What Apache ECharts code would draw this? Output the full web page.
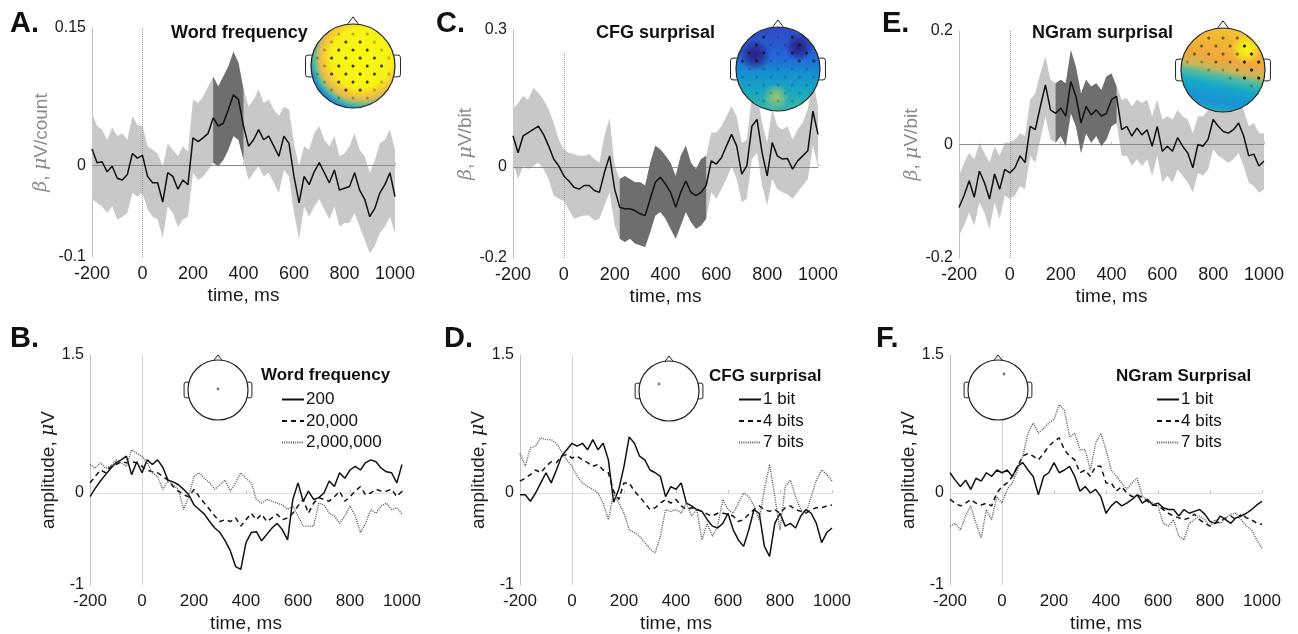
<!DOCTYPE html>
<html>
<head>
<meta charset="utf-8">
<title>ERP regression</title>
<style>
html, body { margin: 0; width: 100%; height: 100%; background: #fff; }
#chart { width: 1298px; height: 634px; }
</style>
</head>
<body>
<div id="chart"></div>
<script src="https://cdn.jsdelivr.net/npm/echarts@6/dist/echarts.min.js"></script>
<script>
// time axis, ms
const times = [-200,-180,-160,-140,-120,-100,-80,-60,-40,-20,
  0,20,40,60,80,100,120,140,160,180,
  200,220,240,260,280,300,320,340,360,380,
  400,420,440,460,480,500,520,540,560,580,
  600,620,640,660,680,700,720,740,760,780,
  800,820,840,860,880,900,920,940,960,980,1000];

// A. word frequency beta (mean, CI), significant window
const wfMean = [0.018,0.003,0.004,-0.007,-0.001,-0.014,-0.016,-0.010,0.013,0.008,
  0.011,-0.012,-0.019,-0.019,-0.040,-0.008,-0.012,-0.026,-0.016,-0.021,
  0.030,0.026,0.030,0.035,0.052,0.043,0.046,0.061,0.077,0.072,
  0.043,0.021,0.028,0.039,0.028,0.032,0.021,0.010,0.032,0.024,
  -0.012,-0.041,-0.012,-0.021,-0.007,0.003,-0.008,-0.019,-0.005,-0.027,
  -0.025,-0.023,-0.008,-0.027,-0.037,-0.056,-0.047,-0.030,-0.021,-0.008,-0.034];
const wfUpper = [0.057,0.043,0.039,0.028,0.041,0.032,0.035,0.028,0.054,0.044,
  0.043,0.021,0.017,0.013,-0.001,0.024,0.017,0.010,0.021,0.015,
  0.072,0.068,0.075,0.086,0.097,0.086,0.097,0.108,0.124,0.112,
  0.083,0.064,0.072,0.083,0.068,0.072,0.061,0.054,0.064,0.061,
  0.024,-0.001,0.021,0.017,0.035,0.043,0.028,0.021,0.032,0.010,
  0.013,0.021,0.035,0.017,0.010,-0.008,0.006,0.024,0.028,0.039,0.017];
const wfLower = [-0.037,-0.041,-0.045,-0.052,-0.045,-0.059,-0.056,-0.052,-0.030,-0.034,
  -0.030,-0.048,-0.056,-0.059,-0.079,-0.045,-0.052,-0.067,-0.059,-0.056,
  -0.008,-0.016,-0.012,-0.005,0.003,-0.001,0.006,0.017,0.032,0.028,
  0.006,-0.016,-0.008,-0.001,-0.012,-0.008,-0.019,-0.030,-0.005,-0.012,
  -0.052,-0.081,-0.045,-0.056,-0.045,-0.037,-0.048,-0.059,-0.045,-0.067,
  -0.063,-0.063,-0.052,-0.067,-0.081,-0.096,-0.088,-0.074,-0.067,-0.056,-0.074];
const wfSig = [280, 400];

// C. CFG surprisal beta
const cfgMean = [0.068,0.031,0.068,0.075,0.082,0.089,0.071,0.046,0.017,0.002,
  -0.020,-0.031,-0.045,-0.049,-0.041,-0.041,-0.052,-0.056,-0.012,0.024,
  -0.049,-0.089,-0.092,-0.092,-0.096,-0.103,-0.107,-0.070,-0.034,-0.023,
  -0.038,-0.056,-0.089,-0.056,-0.031,-0.056,-0.063,-0.056,-0.041,0.013,
  0.006,0.020,0.046,0.071,0.046,-0.016,0.002,0.089,0.104,0.031,
  -0.020,0.053,0.024,0.017,0.018,-0.005,0.013,0.024,0.035,0.122,0.071];
const cfgUpper = [0.126,0.140,0.155,0.147,0.173,0.162,0.147,0.126,0.097,0.060,
  0.038,0.031,0.028,0.024,0.024,0.028,0.017,0.009,0.068,0.107,
  0.002,-0.027,-0.020,-0.027,-0.034,-0.034,-0.041,0.009,0.046,0.038,
  0.024,0.009,-0.020,0.024,0.046,0.009,-0.005,0.017,0.024,0.075,
  0.075,0.089,0.111,0.133,0.111,0.053,0.060,0.155,0.162,0.097,
  0.053,0.126,0.089,0.082,0.089,0.060,0.082,0.097,0.126,0.191,0.133];
const cfgLower = [0.009,-0.027,0.002,-0.005,0.002,0.009,-0.005,-0.027,-0.063,-0.070,
  -0.075,-0.095,-0.114,-0.110,-0.107,-0.107,-0.118,-0.114,-0.085,-0.056,
  -0.129,-0.158,-0.165,-0.158,-0.168,-0.172,-0.176,-0.143,-0.107,-0.099,
  -0.114,-0.136,-0.158,-0.129,-0.099,-0.121,-0.136,-0.129,-0.114,-0.056,
  -0.070,-0.049,-0.027,0.002,-0.027,-0.078,-0.070,0.017,0.031,-0.041,
  -0.085,-0.027,-0.049,-0.056,-0.060,-0.070,-0.056,-0.041,-0.027,0.046,0.002];
const cfgSig = [220, 560];

// E. NGram surprisal beta
const ngMean = [-0.111,-0.090,-0.064,-0.093,-0.047,-0.067,-0.096,-0.052,-0.079,-0.044,
  -0.050,-0.041,-0.020,-0.032,0.032,0.026,0.067,0.105,0.061,0.055,
  0.064,0.050,0.111,0.085,0.038,0.067,0.052,0.061,0.050,0.055,
  0.079,0.085,0.026,0.032,0.015,0.029,0.017,0.026,-0.003,0.032,
  -0.012,-0.003,-0.012,0.012,-0.003,-0.015,-0.041,0.000,-0.003,0.009,
  0.044,0.032,0.023,0.020,0.026,0.038,0.015,-0.020,-0.017,-0.038,-0.029];
const ngUpper = [-0.055,-0.032,-0.015,-0.026,0.003,-0.015,-0.032,-0.003,-0.020,0.003,
  0.003,0.009,0.020,0.015,0.079,0.090,0.125,0.155,0.114,0.108,
  0.114,0.108,0.166,0.137,0.090,0.114,0.102,0.108,0.096,0.120,
  0.125,0.102,0.079,0.082,0.067,0.079,0.073,0.079,0.050,0.079,
  0.044,0.050,0.044,0.061,0.050,0.044,0.020,0.050,0.050,0.061,
  0.090,0.079,0.073,0.073,0.085,0.090,0.061,0.032,0.038,0.020,0.020];
const ngLower = [-0.160,-0.143,-0.120,-0.143,-0.102,-0.120,-0.149,-0.102,-0.131,-0.090,
  -0.096,-0.090,-0.073,-0.079,-0.020,-0.032,0.009,0.050,0.009,0.003,
  0.015,-0.003,0.055,0.032,-0.015,0.020,0.003,0.015,-0.003,0.009,
  0.032,0.038,-0.020,-0.020,-0.038,-0.026,-0.038,-0.026,-0.055,-0.020,
  -0.067,-0.055,-0.067,-0.044,-0.055,-0.067,-0.085,-0.050,-0.055,-0.044,
  -0.009,-0.020,-0.026,-0.032,-0.026,-0.015,-0.038,-0.067,-0.073,-0.085,-0.079];
const ngSig = [180, 420];

// B. amplitude by word frequency
const wf200 = [-0.04,0.05,0.13,0.20,0.27,0.33,0.36,0.40,0.20,0.34,
  0.22,0.36,0.31,0.36,0.28,0.14,0.12,0.09,0.04,-0.02,
  -0.13,-0.18,-0.23,-0.31,-0.38,-0.43,-0.52,-0.63,-0.80,-0.83,
  -0.54,-0.43,-0.42,-0.52,-0.45,-0.38,-0.33,-0.40,-0.51,-0.07,
  0.11,-0.09,0.02,-0.07,-0.05,0.00,0.13,0.07,0.22,0.16,
  0.25,0.29,0.25,0.33,0.36,0.34,0.27,0.23,0.22,0.11,0.31];
const wf20000 = [0.11,0.18,0.25,0.22,0.29,0.31,0.34,0.33,0.34,0.33,
  0.29,0.25,0.23,0.22,0.18,0.14,0.07,0.02,-0.02,-0.04,
  0.04,-0.04,-0.11,-0.18,-0.25,-0.31,-0.29,-0.31,-0.27,-0.36,
  -0.29,-0.22,-0.29,-0.23,-0.31,-0.27,-0.23,-0.29,-0.27,-0.22,
  -0.14,-0.07,-0.22,-0.11,-0.05,-0.07,-0.09,-0.04,0.02,-0.09,
  -0.04,0.02,0.07,-0.02,0.00,0.04,0.02,0.02,0.04,-0.04,0.02];
const wf2000000 = [0.31,0.27,0.33,0.27,0.29,0.36,0.33,0.29,0.47,0.43,
  0.40,0.33,0.22,0.18,0.04,0.13,0.09,0.04,-0.18,-0.04,
  0.18,0.22,0.16,0.11,0.04,0.09,0.14,0.02,0.11,0.22,
  0.16,0.11,-0.07,-0.11,-0.07,-0.09,-0.11,-0.13,-0.18,-0.14,
  -0.25,-0.36,-0.36,-0.36,-0.11,-0.13,-0.22,-0.25,-0.33,-0.25,
  -0.14,-0.25,-0.43,-0.33,-0.18,-0.22,-0.14,-0.11,-0.18,-0.16,-0.23];

// D. amplitude by CFG surprisal
const cfg1 = [-0.02,-0.02,-0.09,0.00,0.11,0.22,0.11,0.25,0.40,0.47,
  0.54,0.51,0.54,0.47,0.58,0.47,0.54,0.36,-0.10,0.04,
  0.29,0.61,0.54,0.40,0.36,0.25,0.22,0.18,-0.04,0.07,
  0.04,0.11,-0.11,-0.14,-0.18,-0.20,-0.29,-0.36,-0.38,-0.33,
  -0.22,-0.40,-0.51,-0.58,-0.40,-0.18,-0.22,-0.58,-0.69,-0.33,
  -0.22,-0.36,-0.33,-0.38,-0.25,-0.18,-0.22,-0.33,-0.54,-0.43,-0.38];
const cfg4 = [0.13,0.16,0.20,0.25,0.22,0.29,0.34,0.33,0.40,0.42,
  0.38,0.40,0.36,0.33,0.29,0.31,0.25,0.22,0.02,-0.07,
  0.11,0.11,0.02,-0.04,-0.11,-0.18,-0.16,-0.11,-0.07,-0.11,
  -0.07,-0.14,-0.18,-0.16,-0.18,-0.20,-0.23,-0.25,-0.22,-0.22,
  -0.23,-0.25,-0.31,-0.29,-0.23,-0.18,-0.14,-0.18,-0.20,-0.18,
  -0.22,-0.16,-0.14,-0.18,-0.20,-0.22,-0.18,-0.16,-0.16,-0.14,-0.13];
const cfg7 = [0.43,0.29,0.49,0.51,0.60,0.58,0.58,0.54,0.45,0.36,
  0.29,0.18,0.11,0.07,0.04,0.00,-0.11,-0.29,0.00,-0.11,
  -0.22,-0.40,-0.43,-0.47,-0.54,-0.61,-0.65,-0.47,-0.18,-0.20,
  -0.18,-0.22,-0.11,-0.25,-0.18,-0.51,-0.33,-0.47,-0.36,-0.07,
  -0.18,-0.22,-0.11,0.00,-0.04,-0.14,-0.29,0.04,0.31,-0.04,
  -0.40,0.07,0.14,-0.04,-0.18,-0.22,-0.04,0.14,0.25,0.20,0.13];

// F. amplitude by NGram surprisal
const ng1 = [0.22,0.14,0.07,0.14,0.04,0.16,0.13,0.22,0.18,0.25,
  0.22,0.25,0.18,0.29,0.33,0.25,0.18,-0.02,0.18,0.22,
  0.33,0.22,0.25,0.29,0.18,0.02,0.07,0.00,0.04,-0.04,
  -0.22,-0.14,-0.09,-0.14,-0.11,-0.07,-0.02,-0.11,-0.07,-0.13,
  -0.11,-0.16,-0.18,-0.18,-0.25,-0.18,-0.22,-0.20,-0.18,-0.23,
  -0.31,-0.33,-0.25,-0.29,-0.33,-0.27,-0.25,-0.22,-0.18,-0.13,-0.09];
const ng4 = [-0.07,-0.11,-0.14,-0.11,-0.07,-0.11,-0.13,-0.11,-0.14,0.00,
  0.07,0.11,0.18,0.29,0.40,0.43,0.40,0.36,0.43,0.51,
  0.56,0.60,0.47,0.40,0.36,0.22,0.25,0.18,0.29,0.29,
  0.11,0.11,0.02,0.07,0.00,-0.04,-0.02,-0.05,-0.09,-0.13,
  -0.14,-0.18,-0.22,-0.25,-0.27,-0.29,-0.27,-0.23,-0.29,-0.33,
  -0.36,-0.33,-0.31,-0.27,-0.25,-0.29,-0.23,-0.27,-0.29,-0.33,-0.34];
const ng7 = [-0.36,-0.33,-0.40,-0.25,-0.14,-0.33,-0.49,-0.18,-0.29,-0.04,
  -0.11,0.04,0.11,0.25,0.40,0.65,0.76,0.65,0.70,0.76,
  0.80,0.96,0.90,0.61,0.65,0.47,0.47,0.25,0.54,0.65,
  0.47,0.25,0.18,0.11,0.04,0.11,0.16,-0.04,-0.07,-0.11,
  -0.14,-0.33,-0.36,-0.29,-0.47,-0.51,-0.33,-0.29,-0.25,-0.29,
  -0.36,-0.29,-0.33,-0.27,-0.23,-0.22,-0.29,-0.36,-0.40,-0.51,-0.60];

const wfLevels = ['200', '20,000', '2,000,000'];
const bitLevels = ['1 bit', '4 bits', '7 bits'];

const FONT = '"Liberation Sans", Arial, Helvetica, sans-serif';
const SERIF = '"DejaVu Serif", "Liberation Serif", serif';
const zeroIdx = times.indexOf(0);

let myChart = echarts.init(document.getElementById('chart'));

const grids = [
  {left: 92, top: 28, width: 303, height: 229},   // A
  {left: 513, top: 30, width: 305, height: 228},  // C
  {left: 959, top: 31, width: 305, height: 227},  // E
  {left: 90, top: 355, width: 312, height: 232},  // B
  {left: 520, top: 355, width: 312, height: 232}, // D
  {left: 950, top: 355, width: 312, height: 232}  // F
];

function xAxisFor(i, fontSize) {
  return {
    type: 'category', gridIndex: i, data: times.map(String), boundaryGap: false,
    axisLine: {show: false},
    axisTick: {show: true, inside: true, length: 3, interval: 9, lineStyle: {color: '#c4c4c4'}},
    axisLabel: {interval: 9, margin: 8, color: '#1a1a1a', fontSize: fontSize, fontFamily: FONT},
    splitLine: {show: false},
    name: 'time, ms', nameLocation: 'middle', nameGap: 29,
    nameTextStyle: {color: '#1a1a1a', fontSize: 19, fontFamily: FONT}
  };
}

function yAxisFor(i, min, max, step, name, gap, nameColor) {
  return {
    type: 'value', gridIndex: i, min: min, max: max, interval: step,
    axisLine: {show: true, lineStyle: {color: '#c0c0c0', width: 1}},
    axisTick: {show: false},
    splitLine: {show: false},
    axisLabel: {
      showMinLabel: true, showMaxLabel: true, margin: 6,
      color: '#1a1a1a', fontSize: 16, fontFamily: FONT,
      formatter: function (v) {
        if (Math.abs(v - min) < 1e-9 || Math.abs(v) < 1e-9 || Math.abs(v - max) < 1e-9) {
          return String(+v.toFixed(2));
        }
        return '';
      }
    },
    name: name, nameLocation: 'middle', nameGap: gap,
    nameTextStyle: {
      color: nameColor, fontSize: 19, fontFamily: FONT,
      rich: {g: {fontFamily: SERIF, fontStyle: 'italic', fontSize: 19, color: nameColor}}
    }
  };
}

// confidence band as a stacked pair: invisible lower + (upper - lower) filled
function band(i, lower, upper, color, z, win) {
  const inWin = k => !win || (times[k] >= win[0] && times[k] <= win[1]);
  const lo = lower.map((v, k) => inWin(k) ? v : null);
  const diff = upper.map((v, k) => inWin(k) ? +(v - lower[k]).toFixed(4) : null);
  const stack = 'band' + i + (win ? 'sig' : '');
  return [
    {type: 'line', xAxisIndex: i, yAxisIndex: i, data: lo, stack: stack, stackStrategy: 'all',
      symbol: 'none', silent: true, z: z, lineStyle: {opacity: 0}},
    {type: 'line', xAxisIndex: i, yAxisIndex: i, data: diff, stack: stack, stackStrategy: 'all',
      symbol: 'none', silent: true, z: z, lineStyle: {opacity: 0}, areaStyle: {color: color, opacity: 1}}
  ];
}

function meanLine(i, data, vTop) {
  return {
    type: 'line', xAxisIndex: i, yAxisIndex: i, data: data, symbol: 'none', z: 6,
    lineStyle: {color: '#111', width: 1.5},
    markLine: {
      silent: true, symbol: 'none', label: {show: false}, z: 3,
      data: [
        {yAxis: 0, lineStyle: {color: '#8c8c8c', width: 1, type: 'solid'}},
        [{coord: [zeroIdx, vTop[0]]}, {coord: [zeroIdx, vTop[1]], lineStyle: {color: '#9a9a9a', width: 1, type: [1, 1]}}]
      ]
    }
  };
}

const lineStyles = [
  {color: '#111', width: 1.5, type: 'solid'},
  {color: '#111', width: 1.5, type: [5, 4]},
  {color: '#555', width: 1.4, type: [1, 1.2]}
];

function condLines(i, names, sets) {
  return sets.map((d, k) => {
    const s = {
      type: 'line', name: names[k], xAxisIndex: i, yAxisIndex: i, data: d, symbol: 'none', z: 6,
      itemStyle: {color: lineStyles[k].color},
      lineStyle: lineStyles[k]
    };
    if (k === 0) {
      s.markLine = {
        silent: true, symbol: 'none', label: {show: false}, z: 3,
        data: [
          {yAxis: 0, lineStyle: {color: '#dcdcdc', width: 1, type: 'solid'}},
          {xAxis: zeroIdx, lineStyle: {color: '#d4d4d4', width: 1, type: 'solid'}}
        ]
      };
    }
    return s;
  });
}

// ---- scalp maps (decoration) ----
let zg = 20;
function rgba(hex, a) {
  const n = parseInt(hex.slice(1), 16);
  return 'rgba(' + (n >> 16) + ',' + ((n >> 8) & 255) + ',' + (n & 255) + ',' + a + ')';
}
function blob(cx, cy, r, color) {
  return {type: 'circle', z: zg++, silent: true, shape: {cx: cx, cy: cy, r: r},
    style: {fill: {type: 'radial', x: 0.5, y: 0.5, r: 0.5,
      colorStops: [{offset: 0, color: rgba(color, 0.95)}, {offset: 0.5, color: rgba(color, 0.6)}, {offset: 1, color: rgba(color, 0)}]}}};
}
function electrodes(cx, cy, r, alphaFn) {
  const out = [];
  const dy = r * 0.19, dx = r * 0.34;
  for (let row = -5; row <= 5; row++) {
    const off = row % 2 ? dx / 2 : 0;
    for (let col = -4; col <= 4; col++) {
      const x = col * dx + off, y = row * dy;
      if (Math.hypot(x, y) > r * 0.9) continue;
      const a = alphaFn(x / r, y / r);
      if (a > 0) out.push({type: 'circle', z: zg++, silent: true, shape: {cx: cx + x, cy: cy + y, r: 1.5}, style: {fill: '#111', opacity: a}});
    }
  }
  return out;
}
function head(cx, cy, r, fill, inner) {
  const st = {fill: '#fff', stroke: '#222', lineWidth: 1};
  const els = [
    {type: 'rect', z: zg++, silent: true, shape: {x: cx - r - r * 0.13, y: cy - r * 0.26, width: r * 0.2, height: r * 0.52, r: r * 0.06}, style: st},
    {type: 'rect', z: zg++, silent: true, shape: {x: cx + r - r * 0.07, y: cy - r * 0.26, width: r * 0.2, height: r * 0.52, r: r * 0.06}, style: st},
    {type: 'polygon', z: zg++, silent: true, shape: {points: [[cx - r * 0.15, cy - r * 0.97], [cx, cy - r * 1.17], [cx + r * 0.15, cy - r * 0.97]]}, style: st},
    {type: 'circle', z: zg++, silent: true, shape: {cx: cx, cy: cy, r: r}, style: {fill: fill}}
  ];
  const mid = inner ? inner() : [];
  return els.concat(mid, [{type: 'circle', z: zg++, silent: true, shape: {cx: cx, cy: cy, r: r}, style: {fill: 'none', stroke: '#222', lineWidth: 1.2}}]);
}

function txt(x, y, text, size, bold, align) {
  return {type: 'text', z: zg++, silent: true, x: x, y: y,
    style: {text: text, fill: '#111', font: (bold ? 'bold ' : '') + size + 'px ' + FONT,
      textAlign: align || 'left', textVerticalAlign: 'middle', align: align || 'left', verticalAlign: 'middle'}};
}

const graphics = [];
// panel letters
[['A.', 10, 24], ['C.', 436, 24], ['E.', 882, 24], ['B.', 10, 339], ['D.', 444, 339], ['F.', 876, 339]]
  .forEach(p => graphics.push(txt(p[1], p[2], p[0], 29, true)));
// panel titles
graphics.push(txt(171, 33, 'Word frequency', 18, true));
graphics.push(txt(596, 33, 'CFG surprisal', 18, true));
graphics.push(txt(1032, 33, 'NGram surprisal', 18, true));
graphics.push(txt(261, 375, 'Word frequency', 17, true));
graphics.push(txt(709, 376, 'CFG surprisal', 17, true));
graphics.push(txt(1116, 376, 'NGram Surprisal', 17, true));

// A map: mostly yellow
graphics.push(...head(353, 66, 42, {type: 'radial', x: 0.6, y: 0.4, r: 0.62, colorStops: [
  {offset: 0, color: '#f9fb0e'}, {offset: 0.58, color: '#f8f016'}, {offset: 0.72, color: '#f6c935'},
  {offset: 0.82, color: '#d9b958'}, {offset: 0.9, color: '#5dbf93'}, {offset: 1, color: '#1c86d8'}]},
  () => electrodes(353, 66, 42, (x, y) => Math.hypot(x - 0.05, y + 0.05) < 0.68 ? 0.85 : 0.3)));
// C map: blue, dark frontal
graphics.push(...head(778, 69, 42, {type: 'linear', x: 0, y: 0, x2: 0, y2: 1, colorStops: [
  {offset: 0, color: '#2f49c4'}, {offset: 0.35, color: '#2466d8'}, {offset: 0.55, color: '#1590d2'},
  {offset: 0.78, color: '#17a9c0'}, {offset: 1, color: '#3fb6a6'}]},
  () => [blob(778 - 0.55 * 42, 69 - 0.33 * 42, 16, '#2a1a7e'), blob(778 + 0.5 * 42, 69 - 0.52 * 42, 14, '#2a1a7e'),
    blob(778 - 0.05 * 42, 69 + 0.66 * 42, 13, '#9cc66e')]
    .concat(electrodes(778, 69, 42, (x, y) => (y < -0.1 && Math.abs(x) > 0.25) ? 0.8 : 0.22))));
// E map: orange front-right, teal back
graphics.push(...head(1223, 70, 42, {type: 'linear', x: 0.6, y: 0, x2: 0.4, y2: 1, colorStops: [
  {offset: 0, color: '#f4c22e'}, {offset: 0.38, color: '#f0a83c'}, {offset: 0.5, color: '#c9b65a'},
  {offset: 0.58, color: '#4cbba0'}, {offset: 0.7, color: '#15a7c8'}, {offset: 0.88, color: '#1a92d6'}, {offset: 1, color: '#27aebd'}]},
  () => [blob(1223 + 0.55 * 42, 70 - 0.5 * 42, 15, '#f9fb0e')]
    .concat(electrodes(1223, 70, 42, (x, y) => {
      if (x > 0.35 && y < 0.2) return 1;
      if (y < -0.05 + 0.35 * x) return 0.6;
      if (y < 0.2 + 0.35 * x) return 0.3;
      return 0;
    }))));
// small heads with the electrode used
[[218, 390, 218, 389], [669, 391, 659, 384], [998, 390, 1004, 374]].forEach(h => {
  graphics.push(...head(h[0], h[1], 30, '#fff', () => [
    {type: 'circle', z: zg++, silent: true, shape: {cx: h[2], cy: h[3], r: 1.4}, style: {fill: '#777'}}]));
});

const series = [].concat(
  band(0, wfLower, wfUpper, '#c8c8c8', 2), band(0, wfLower, wfUpper, '#6e6e6e', 3, wfSig), [meanLine(0, wfMean, [-0.1, 0.15])],
  band(1, cfgLower, cfgUpper, '#c8c8c8', 2), band(1, cfgLower, cfgUpper, '#6e6e6e', 3, cfgSig), [meanLine(1, cfgMean, [-0.2, 0.25])],
  band(2, ngLower, ngUpper, '#c8c8c8', 2), band(2, ngLower, ngUpper, '#6e6e6e', 3, ngSig), [meanLine(2, ngMean, [-0.2, 0.2])],
  condLines(3, wfLevels, [wf200, wf20000, wf2000000]),
  condLines(4, bitLevels, [cfg1, cfg4, cfg7]),
  condLines(5, bitLevels, [ng1, ng4, ng7])
);

function legendAt(left, top, names) {
  return {
    data: names, orient: 'vertical', left: left, top: top,
    itemWidth: 22, itemHeight: 14, itemGap: 4.5, selectedMode: false,
    itemStyle: {opacity: 0},
    textStyle: {color: '#111', fontSize: 17, fontFamily: FONT, padding: [0, 0, 0, -3]}
  };
}

const option = {
  animation: false,
  backgroundColor: '#fff',
  grid: grids,
  xAxis: [xAxisFor(0, 18), xAxisFor(1, 18), xAxisFor(2, 18), xAxisFor(3, 17), xAxisFor(4, 17), xAxisFor(5, 17)],
  yAxis: [
    yAxisFor(0, -0.1, 0.15, 0.05, '{g|β}, {g|μ}V/count', 35, '#8a8a8a'),
    yAxisFor(1, -0.2, 0.3, 0.1, '{g|β}, {g|μ}V/bit', 26, '#8a8a8a'),
    yAxisFor(2, -0.2, 0.2, 0.1, '{g|β}, {g|μ}V/bit', 37, '#8a8a8a'),
    yAxisFor(3, -1, 1.5, 0.5, 'amplitude, {g|μ}V', 31, '#222'),
    yAxisFor(4, -1, 1.5, 0.5, 'amplitude, {g|μ}V', 31, '#222'),
    yAxisFor(5, -1, 1.5, 0.5, 'amplitude, {g|μ}V', 31, '#222')
  ],
  legend: [legendAt(276, 386, wfLevels), legendAt(733, 386, bitLevels), legendAt(1151, 386, bitLevels)],
  graphic: {elements: graphics},
  series: series
};

myChart.setOption(option);
</script>
</body>
</html>
